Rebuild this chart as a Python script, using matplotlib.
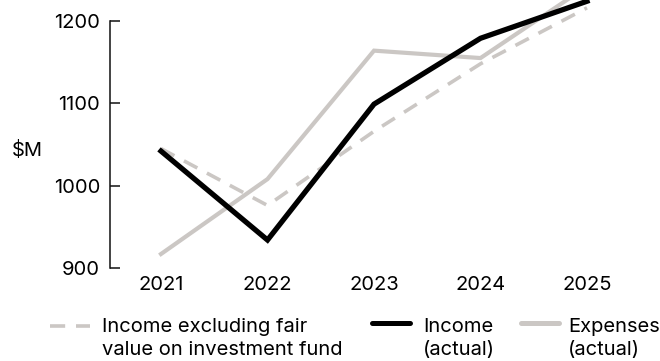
import matplotlib
matplotlib.use("Agg")
import matplotlib.pyplot as plt
from matplotlib.lines import Line2D

plt.rcParams['font.family'] = ['Inter', 'DejaVu Sans']

years = [2021, 2022, 2023, 2024, 2025]
income_excl = [1045, 976, 1066, 1148, 1216]
income = [1042, 934, 1099, 1179, 1224]
expenses = [917, 1008, 1164, 1155, 1242]
y_ticks = [900, 1000, 1100, 1200]
y_label = "$M"
legend_labels = [["Income excluding fair", "value on investment fund"],
                 ["Income", "(actual)"],
                 ["Expenses", "(actual)"]]

BLACK = "#000000"
GREY = "#cbc7c4"
FS = 14.5

W, H = 660, 361
fig = plt.figure(figsize=(W / 100, H / 100), dpi=100)
ax = fig.add_axes([110 / W, (H - 268) / H, 1 - 110 / W, 268 / H])

ppy = 106.5
ax.set_xlim(2021 - (161 - 110) / ppy, 2021 + (660 - 161) / ppy)
ppu = 247 / 300
ax.set_ylim(900, 1200 + 21 / ppu)

ax.plot(years, income_excl, color=GREY, lw=2.6, dashes=(4.2, 3.0), solid_capstyle='butt', dash_capstyle='butt', zorder=2)
ax.plot(years, expenses, color=GREY, lw=3.0, solid_joinstyle='miter', zorder=3)
ax.plot(years, income, color=BLACK, lw=3.8, solid_joinstyle='miter', zorder=4)

for s in ['top', 'right', 'bottom']:
    ax.spines[s].set_visible(False)
ax.spines['left'].set_bounds(900, 1200)
ax.spines['left'].set_linewidth(1.1)
ax.spines['left'].set_color('#111111')

ax.set_yticks(y_ticks)
ax.set_yticklabels([str(v) for v in y_ticks])
ax.tick_params(axis='y', direction='in', length=7.2, width=1.1, color='#111111', pad=7.2, labelsize=FS)
ax.set_xticks(years)
ax.set_xticklabels([str(y) for y in years])
ax.tick_params(axis='x', length=0, pad=6, labelsize=FS)

fig.text(12 / W, 1 - 150 / H, y_label, fontsize=FS, ha='left', va='center')

# legend
handles = [
    dict(x0=50, x1=90, y=326, color=GREY, lw=2.6, dashes=(4.2, 3.0), cap='butt'),
    dict(x0=372, x1=410, y=323, color=BLACK, lw=3.6, dashes=None, cap='round'),
    dict(x0=521, x1=559, y=323, color=GREY, lw=3.6, dashes=None, cap='round'),
]
text_x = [102, 423, 568]
for h, tx, lab in zip(handles, text_x, legend_labels):
    ln = Line2D([h['x0'] / W, h['x1'] / W], [1 - h['y'] / H, 1 - h['y'] / H],
                transform=fig.transFigure, color=h['color'], lw=h['lw'],
                solid_capstyle=h['cap'], dash_capstyle=h['cap'])
    if h['dashes']:
        ln.set_dashes(h['dashes'])
    fig.add_artist(ln)
    fig.text(tx / W, 1 - 332 / H, lab[0], fontsize=FS, ha='left', va='baseline')
    fig.text(tx / W, 1 - 355 / H, lab[1], fontsize=FS, ha='left', va='baseline')

fig.savefig("out.png", dpi=100)
